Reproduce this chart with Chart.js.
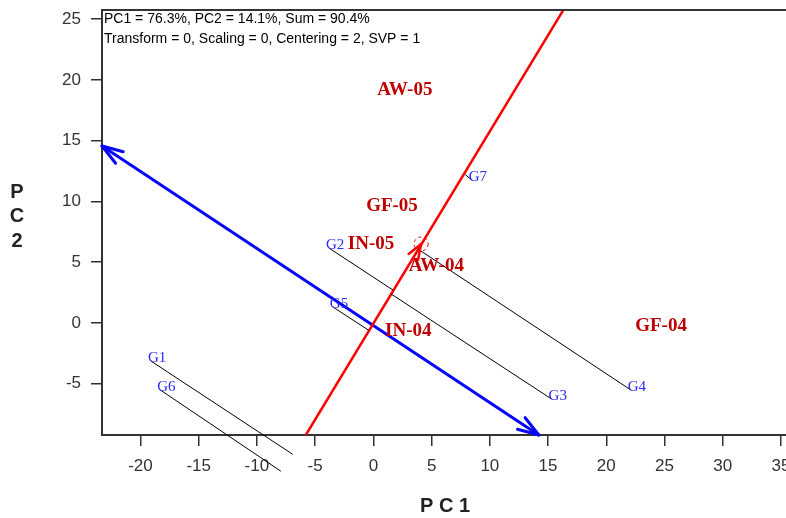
<!DOCTYPE html>
<html>
<head>
<meta charset="utf-8">
<script src="https://cdn.jsdelivr.net/npm/chart.js@4.4.1/dist/chart.umd.min.js"></script>
<style>
  html, body { margin: 0; padding: 0; background: #fff; overflow: hidden; }
  canvas { display: block; }
</style>
</head>
<body>
<canvas id="biplot" width="800" height="518"></canvas>
<script>
// genotype scores (blue labels)
var genotypes = ["G1", "G2", "G3", "G4", "G5", "G6", "G7"];
var genoX = [-19.1, -3.82, 15.3, 22.1, -3.48, -18.3, 8.45];
var genoY = [-3.13, 6.17, -6.26, -5.51, 1.32, -5.51, 11.77];
// where the thin black lines end (on the red axis)
var projX = [-6.94, 1.7, 1.5, 3.8, -0.4, -7.94, 7.9];
var projY = [-10.8, 2.7, 2.4, 6.1, -0.6, -12.2, 12.2];

// environment scores (red labels)
var environments = ["AW-05", "GF-05", "IN-05", "AW-04", "IN-04", "GF-04"];
var envX = [2.7, 1.6, -0.2, 5.4, 3.0, 24.7];
var envY = [19.2, 9.6, 6.5, 4.7, -0.7, -0.25];

// axes of the biplot
var redAxisX = [-5.8, 16.4];
var redAxisY = [-9.22, 25.9];
var blueAxisX = [-23.3, 14.2];
var blueAxisY = [14.57, -9.22];
var avgEnvX = [4.1];
var avgEnvY = [6.5];

var xTicks = [-20, -15, -10, -5, 0, 5, 10, 15, 20, 25, 30, 35];
var yTicks = [-5, 0, 5, 10, 15, 20, 25];
var infoLines = [
  "PC1 = 76.3%, PC2 = 14.1%, Sum = 90.4%",
  "Transform = 0, Scaling = 0, Centering = 2, SVP = 1"
];

var datasets = [];

// thin projection lines
genotypes.forEach(function (g, i) {
  datasets.push({
    data: [{ x: genoX[i], y: genoY[i] }, { x: projX[i], y: projY[i] }],
    showLine: true,
    borderColor: "#000",
    borderWidth: 1,
    pointRadius: 0,
    clip: false
  });
});

datasets.push({
  data: redAxisX.map(function (x, i) { return { x: x, y: redAxisY[i] }; }),
  showLine: true,
  borderColor: "#ff0000",
  borderWidth: 2.5,
  pointRadius: 0,
  clip: 0
});

datasets.push({
  data: blueAxisX.map(function (x, i) { return { x: x, y: blueAxisY[i] }; }),
  showLine: true,
  borderColor: "#0505ff",
  borderWidth: 3,
  pointRadius: 0,
  clip: 0
});

function px(chart, x, y) {
  return [chart.scales.x.getPixelForValue(x), chart.scales.y.getPixelForValue(y)];
}

function arrowHead(ctx, tip, from, len, spread, color, width) {
  var ang = Math.atan2(from[1] - tip[1], from[0] - tip[0]);
  ctx.save();
  ctx.strokeStyle = color;
  ctx.lineWidth = width;
  ctx.lineCap = "round";
  [-spread, spread].forEach(function (s) {
    ctx.beginPath();
    ctx.moveTo(tip[0], tip[1]);
    ctx.lineTo(tip[0] + len * Math.cos(ang + s), tip[1] + len * Math.sin(ang + s));
    ctx.stroke();
  });
  ctx.restore();
}

var biplotExtras = {
  id: "biplotExtras",
  afterDatasetsDraw: function (chart) {
    var ctx = chart.ctx;
    var area = chart.chartArea;

    // top frame line
    ctx.save();
    ctx.strokeStyle = "#333";
    ctx.lineWidth = 2;
    ctx.beginPath();
    ctx.moveTo(area.left, area.top);
    ctx.lineTo(area.right, area.top);
    ctx.stroke();
    ctx.restore();

    // blue arrows at both ends
    var b0 = px(chart, blueAxisX[0], blueAxisY[0]);
    var b1 = px(chart, blueAxisX[1], blueAxisY[1]);
    arrowHead(ctx, b0, b1, 22, 0.32, "#0505ff", 3);
    arrowHead(ctx, b1, b0, 22, 0.32, "#0505ff", 3);

    // red arrow + dashed circle at average environment
    var c = px(chart, avgEnvX[0], avgEnvY[0]);
    var r0 = px(chart, redAxisX[0], redAxisY[0]);
    arrowHead(ctx, c, r0, 16, 0.35, "#ff0000", 2.5);
    ctx.save();
    ctx.strokeStyle = "#ff0000";
    ctx.lineWidth = 1;
    ctx.setLineDash([3, 3]);
    ctx.beginPath();
    ctx.arc(c[0], c[1], 7, 0, Math.PI * 2);
    ctx.stroke();
    ctx.restore();

    // environment labels
    ctx.save();
    ctx.fillStyle = "#c00000";
    ctx.font = "bold 19px 'Liberation Serif'";
    ctx.textAlign = "center";
    ctx.textBaseline = "middle";
    environments.forEach(function (e, i) {
      var p = px(chart, envX[i], envY[i]);
      ctx.fillText(e, p[0], p[1]);
    });
    ctx.restore();

    // genotype labels
    ctx.save();
    ctx.fillStyle = "#2828ff";
    ctx.font = "15px 'Liberation Serif'";
    ctx.textAlign = "left";
    ctx.textBaseline = "middle";
    genotypes.forEach(function (g, i) {
      var p = px(chart, genoX[i], genoY[i]);
      ctx.fillText(g, p[0] - 3, p[1] - 3);
    });
    ctx.restore();

    // info text
    ctx.save();
    ctx.fillStyle = "#000";
    ctx.font = "14px 'Liberation Sans'";
    ctx.textAlign = "left";
    ctx.textBaseline = "middle";
    infoLines.forEach(function (t, i) {
      ctx.fillText(t, area.left + 2, area.top + 9 + i * 20);
    });
    ctx.restore();

    // axis titles
    ctx.save();
    ctx.fillStyle = "#222";
    ctx.font = "bold 20px 'Liberation Sans'";
    ctx.textAlign = "center";
    ctx.textBaseline = "middle";
    ctx.fillText("P C 1", 445, 506);
    ["P", "C", "2"].forEach(function (ch, i) {
      ctx.fillText(ch, 17, 192 + i * 24.5);
    });
    ctx.restore();
  }
};

var ctx = document.getElementById("biplot").getContext("2d");
var chart = new Chart(ctx, {
  type: "scatter",
  data: { datasets: datasets },
  options: {
    responsive: false,
    animation: false,
    layout: { padding: { top: 10, right: 12, bottom: 0, left: 0 } },
    plugins: { legend: { display: false }, tooltip: { enabled: false } },
    scales: {
      x: {
        type: "linear",
        min: -23.3,
        max: 35.6,
        afterBuildTicks: function (s) { s.ticks = xTicks.map(function (v) { return { value: v }; }); },
        afterFit: function (s) { s.height = 83; s.paddingLeft = 0; s.paddingRight = 0; },
        grid: { drawOnChartArea: false, tickLength: 11, color: "#333", lineWidth: 1.5 },
        border: { color: "#333", width: 2 },
        ticks: { color: "#333", padding: 10, font: { family: "'Liberation Sans'", size: 17 }, maxRotation: 0, autoSkip: false }
      },
      y: {
        type: "linear",
        min: -9.22,
        max: 25.76,
        afterBuildTicks: function (s) { s.ticks = yTicks.map(function (v) { return { value: v }; }); },
        afterFit: function (s) { s.width = 102; s.paddingTop = 0; s.paddingBottom = 0; },
        grid: { drawOnChartArea: false, tickLength: 11, color: "#333", lineWidth: 1.5 },
        border: { color: "#333", width: 2 },
        ticks: { color: "#333", padding: 10, font: { family: "'Liberation Sans'", size: 17 }, autoSkip: false }
      }
    }
  },
  plugins: [biplotExtras]
});
</script>
</body>
</html>
